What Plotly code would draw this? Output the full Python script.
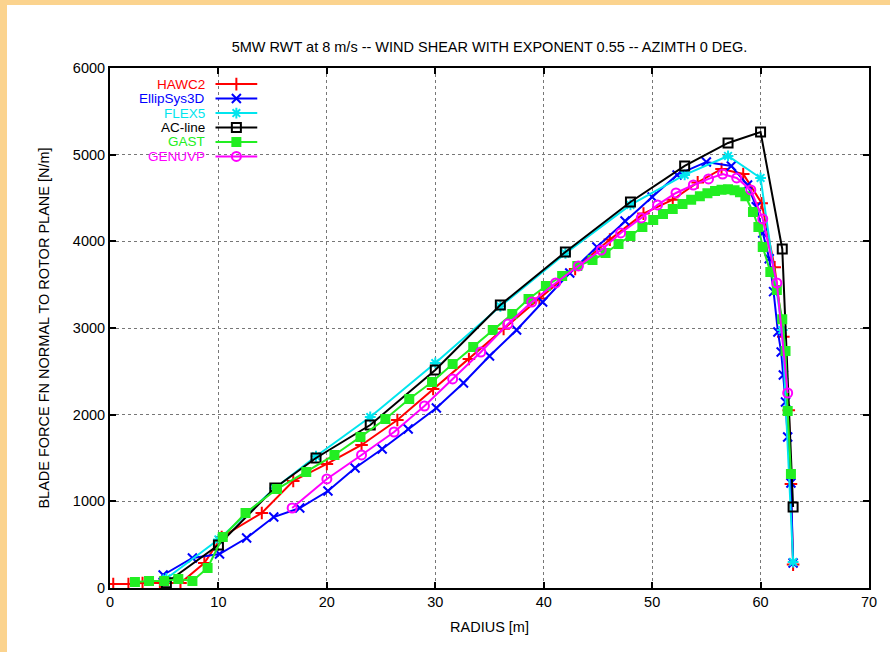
import plotly.graph_objects as go

# ---------------- data ----------------
hawc2_r = [0.3, 1.7, 3.0, 4.6, 6.5, 8.7, 10.3, 14.0, 16.9, 20.0, 23.2, 26.5, 29.8, 33.1,
           36.3, 39.6, 42.9, 46.1, 49.2, 51.9, 54.2, 56.4, 58.4, 60.1, 61.3, 62.1, 62.6, 62.8, 63.0]
hawc2_f = [46, 46, 58, 58, 58, 288, 589, 866, 1235, 1431, 1650, 1939, 2296, 2643,
           2990, 3340, 3680, 4020, 4320, 4480, 4680, 4835, 4777, 4440, 3700, 2900, 2050, 1200, 270]

ellip_r = [4.9, 7.6, 10.1, 12.6, 15.1, 17.5, 20.1, 22.6, 25.1, 27.5, 30.1, 32.6, 35.0, 37.5,
           39.9, 42.4, 44.9, 47.5, 50.0, 52.3, 55.0, 57.3, 58.8, 59.6, 60.2, 60.8, 61.2, 61.6,
           61.9, 62.1, 62.3, 62.5, 62.8, 63.0]
ellip_f = [150, 346, 392, 577, 819, 923, 1119, 1385, 1604, 1835, 2077, 2366, 2677, 2977,
           3300, 3635, 3935, 4235, 4512, 4766, 4916, 4870, 4650, 4400, 4097, 3800, 3420, 2954,
           2723, 2458, 2146, 1743, 1212, 288]

flex5_r = [5.2, 10.0, 15.2, 19.0, 24.0, 30.0, 36.0, 42.0, 48.0, 53.0, 57.0, 60.0, 62.0, 63.0]
flex5_f = [110, 560, 1150, 1520, 1973, 2596, 3250, 3860, 4420, 4766, 4985, 4731, 2977, 300]

acline_r = [5.2, 10.0, 15.2, 19.0, 24.0, 30.0, 36.0, 42.0, 48.0, 53.0, 57.0, 60.0, 62.0, 63.0]
acline_f = [60, 496, 1154, 1500, 1881, 2516, 3266, 3877, 4454, 4870, 5135, 5262, 3912, 935]

gast_r = [2.3, 3.6, 5.0, 6.3, 7.6, 9.0, 10.4, 12.5, 15.4, 18.1, 20.7, 23.1, 25.4, 27.6, 29.7,
          31.6, 33.5, 35.3, 37.1, 38.6, 40.2, 41.7, 43.1, 44.5, 45.7, 46.9, 48.0, 49.1, 50.1,
          51.0, 51.9, 52.8, 53.6, 54.4, 55.1, 55.8, 56.4, 57.0, 57.6, 58.1, 58.6, 59.3, 59.8,
          60.2, 60.9, 61.5, 62.0, 62.3, 62.5, 62.8]
gast_f = [69, 81, 81, 104, 81, 231, 589, 866, 1142, 1339, 1535, 1743, 1950, 2181, 2377,
          2585, 2781, 2977, 3162, 3335, 3485, 3600, 3716, 3785, 3866, 3970, 4062, 4166, 4247,
          4316, 4374, 4430, 4480, 4520, 4555, 4580, 4595, 4600, 4590, 4565, 4520, 4339, 4166,
          3935, 3647, 3439, 3100, 2735, 2043, 1316]

genuvp_r = [16.8, 20.0, 23.2, 26.2, 29.0, 31.6, 34.2, 36.7, 38.9, 41.1, 43.2, 45.3, 47.1,
            49.0, 50.5, 52.2, 53.8, 55.2, 56.5, 57.8, 59.1, 60.2, 61.5, 62.5]
genuvp_f = [923, 1258, 1535, 1800, 2100, 2412, 2723, 3046, 3300, 3520, 3716, 3900, 4097,
            4270, 4420, 4558, 4650, 4720, 4777, 4731, 4593, 4258, 3520, 2250]

x_ticks = [0, 10, 20, 30, 40, 50, 60, 70]
y_ticks = [0, 1000, 2000, 3000, 4000, 5000, 6000]

names = ["HAWC2", "EllipSys3D", "FLEX5", "AC-line", "GAST", "GENUVP"]
series_r = [hawc2_r, ellip_r, flex5_r, acline_r, gast_r, genuvp_r]
series_f = [hawc2_f, ellip_f, flex5_f, acline_f, gast_f, genuvp_f]

# ---------------- styles ----------------
colors = ["#ff0000", "#0000ff", "#00e5ee", "#000000", "#22ee22", "#ff00ff"]
symbols = ["cross-thin-open", "x-thin-open", "asterisk-open", "square-open", "square", "circle-open"]
msizes = [9, 9, 9, 9, 8, 9]
FONT = "Liberation Sans, Arial, sans-serif"
FS = 14.5
FS_LEG = 13.5

fig = go.Figure()
for name, r, f, c, s, ms in zip(names, series_r, series_f, colors, symbols, msizes):
    fig.add_trace(go.Scatter(
        x=r, y=f, name=name, mode="lines+markers",
        line=dict(color=c, width=2),
        marker=dict(symbol=s, size=ms, color=c, line=dict(color=c, width=2)),
        showlegend=False,
    ))

# gnuplot-style legend: text right-aligned, sample to the right
leg_text_x = 0.127
leg_x0, leg_x1 = 0.139, 0.194
leg_y0 = 0.969
leg_dy = 0.0278
for i, (name, c, s, ms) in enumerate(zip(names, colors, symbols, msizes)):
    yy = leg_y0 - i * leg_dy
    fig.add_trace(go.Scatter(
        x=[leg_x0, leg_x1], y=[yy, yy], xaxis="x2", yaxis="y2", mode="lines",
        line=dict(color=c, width=2), showlegend=False, hoverinfo="skip"))
    fig.add_trace(go.Scatter(
        x=[(leg_x0 + leg_x1) / 2], y=[yy], xaxis="x2", yaxis="y2", mode="markers",
        marker=dict(symbol=s, size=ms, color=c, line=dict(color=c, width=2)),
        showlegend=False, hoverinfo="skip"))
    fig.add_annotation(x=leg_text_x, y=yy, xref="paper", yref="paper", text=name,
                       showarrow=False, xanchor="right", yanchor="middle", borderpad=0,
                       font=dict(family=FONT, size=FS_LEG, color=c))

axis_common = dict(
    showline=True, linecolor="black", linewidth=2, mirror="ticks",
    ticks="inside", ticklen=6, tickwidth=1.5, tickcolor="black",
    showgrid=True, gridcolor="#777777", griddash="dot", gridwidth=1,
    zeroline=False, tickfont=dict(family=FONT, size=FS, color="black"),
)

fig.update_layout(
    width=890, height=652,
    margin=dict(l=110, r=21, t=68, b=64),
    paper_bgcolor="white", plot_bgcolor="white",
    title=dict(text="5MW RWT at 8 m/s -- WIND SHEAR WITH EXPONENT 0.55 -- AZIMTH 0 DEG.",
               x=0.5, xref="paper", y=1 - 47 / 652, yref="container", yanchor="middle",
               xanchor="center", font=dict(family=FONT, size=FS, color="black")),
    xaxis=dict(range=[0, 70], tickvals=x_ticks,
               title=dict(text="RADIUS [m]", standoff=12,
                          font=dict(family=FONT, size=FS, color="black")),
               **axis_common),
    yaxis=dict(range=[0, 6000], tickvals=y_ticks,
               title=dict(text="BLADE FORCE FN NORMAL TO ROTOR PLANE [N/m]", standoff=20,
                          font=dict(family=FONT, size=FS, color="black")),
               **axis_common),
    xaxis2=dict(range=[0, 1], overlaying="x", anchor="y2", visible=False, domain=[0, 1]),
    yaxis2=dict(range=[0, 1], overlaying="y", anchor="x2", visible=False, domain=[0, 1]),
    showlegend=False,
)

# peach frame strips (top and left edges of the picture)
fig.add_shape(type="rect", xref="paper", yref="paper", x0=-110 / 759, x1=-103 / 759,
              y0=-64 / 520, y1=588 / 520, fillcolor="#fbd38e", line=dict(width=0), layer="above")
fig.add_shape(type="rect", xref="paper", yref="paper", x0=-110 / 759, x1=780 / 759,
              y0=583 / 520, y1=588 / 520, fillcolor="#fbd38e", line=dict(width=0), layer="above")

fig.write_html("out.html", config={"displayModeBar": False},
               post_script="document.body.style.margin='0';document.body.style.overflow='hidden';")
